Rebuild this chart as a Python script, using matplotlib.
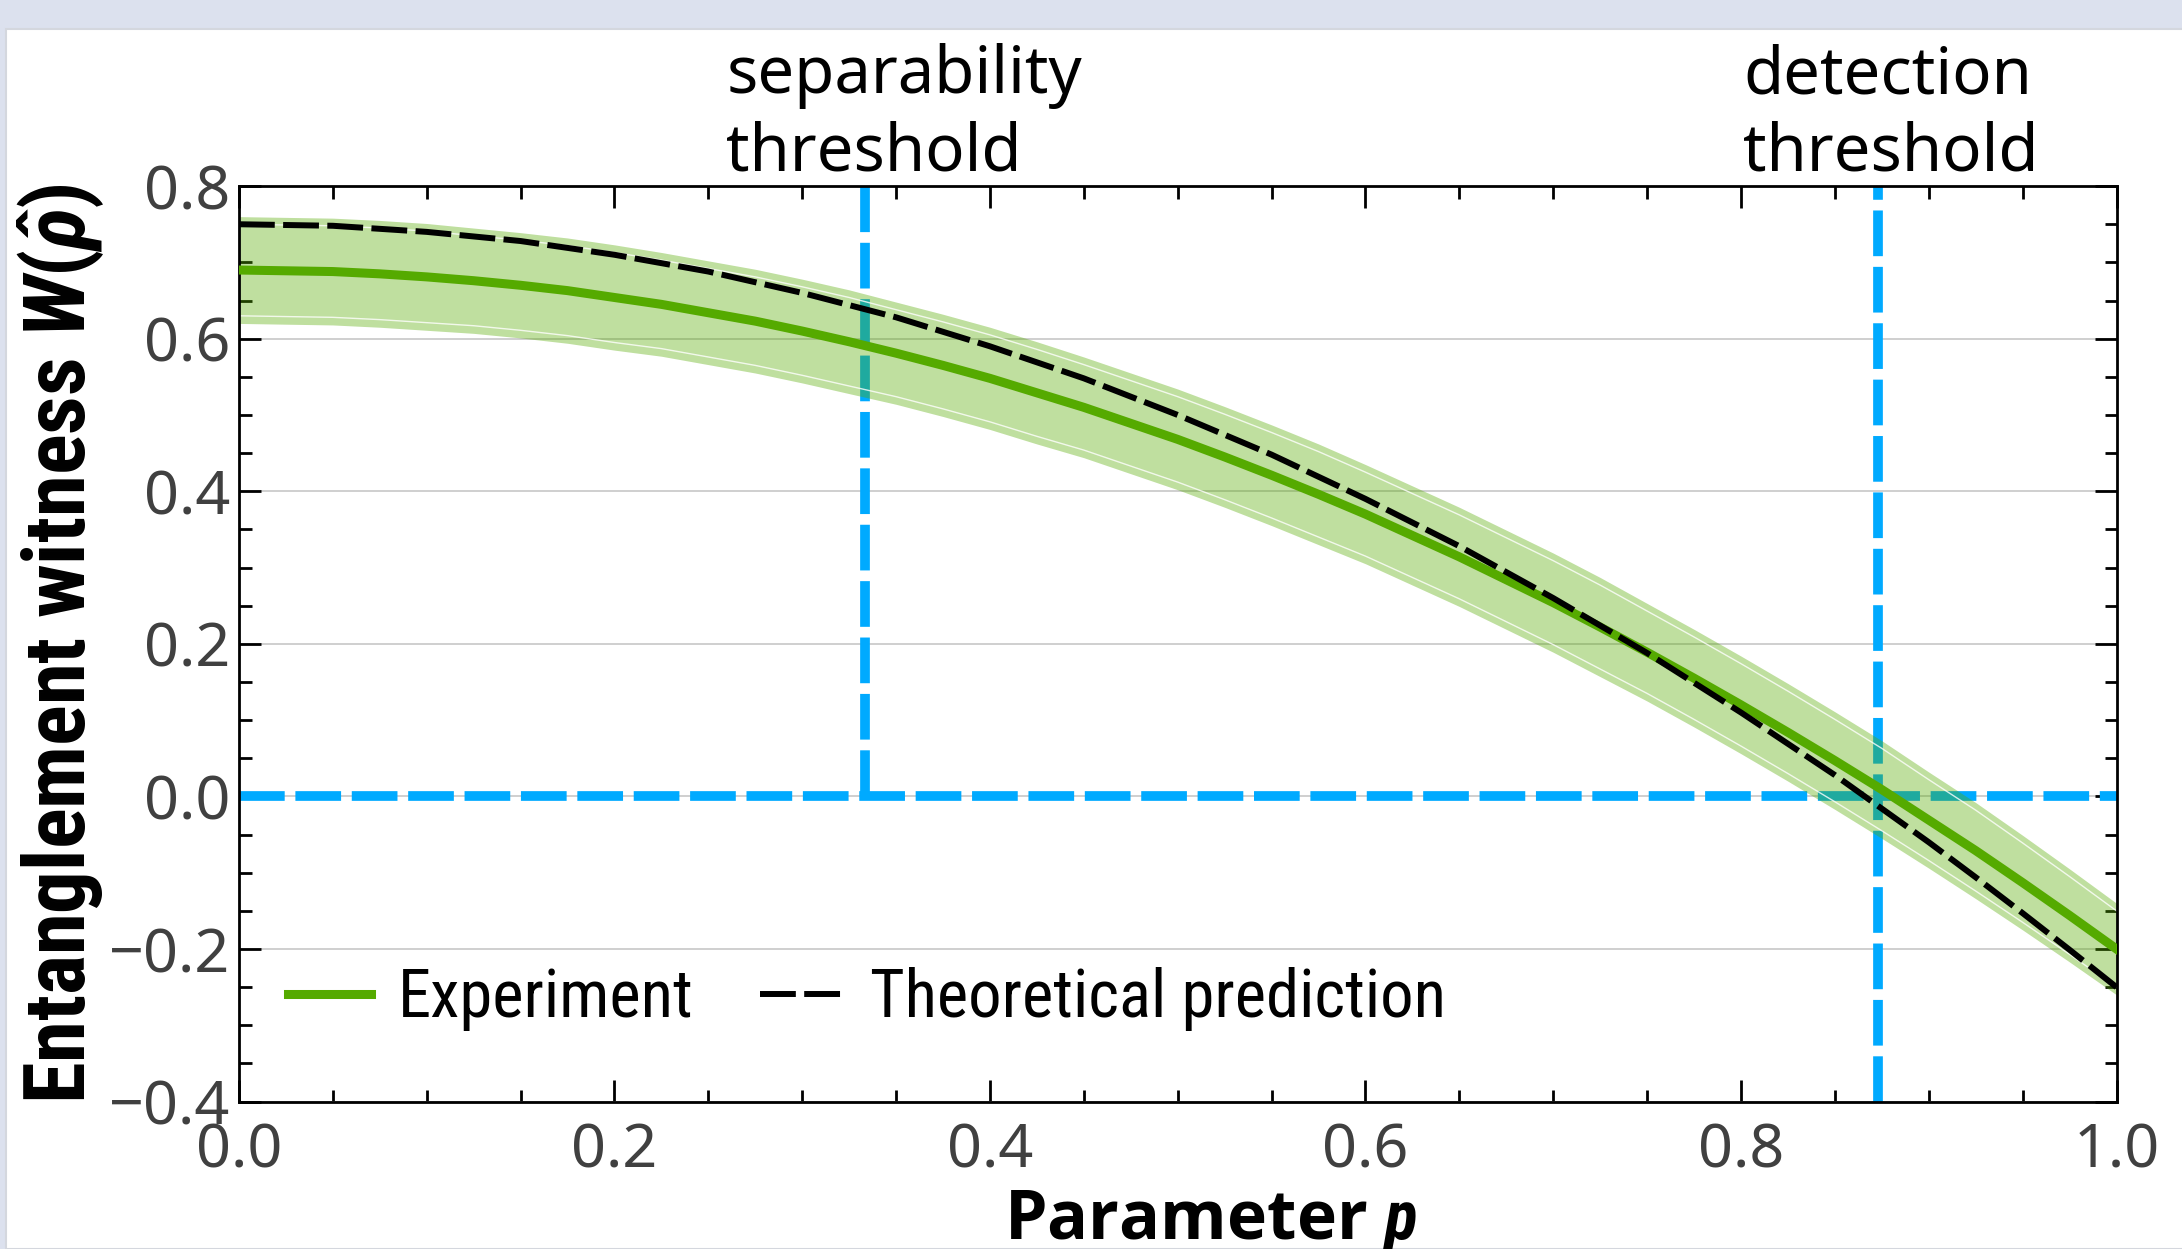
import matplotlib
matplotlib.use("Agg")
import matplotlib.pyplot as plt
from matplotlib import font_manager
from matplotlib.patches import Rectangle

# Valeurs
p = [0.000, 0.025, 0.050, 0.075, 0.100, 0.125, 0.150, 0.175, 0.200, 0.225,
     0.250, 0.275, 0.300, 0.325, 0.350, 0.375, 0.400, 0.425, 0.450, 0.475,
     0.500, 0.525, 0.550, 0.575, 0.600, 0.625, 0.650, 0.675, 0.700, 0.725,
     0.750, 0.775, 0.800, 0.825, 0.850, 0.875, 0.900, 0.925, 0.950, 0.975, 1.000]
w_theory = [0.750, 0.749, 0.748, 0.744, 0.740, 0.734, 0.728, 0.719, 0.710, 0.699,
            0.688, 0.674, 0.660, 0.644, 0.628, 0.609, 0.590, 0.569, 0.548, 0.524,
            0.500, 0.474, 0.448, 0.419, 0.390, 0.359, 0.328, 0.294, 0.260, 0.224,
            0.188, 0.149, 0.110, 0.069, 0.028, -0.016, -0.060, -0.106, -0.153, -0.201, -0.250]
w_exp = [0.690, 0.689, 0.688, 0.685, 0.681, 0.676, 0.670, 0.663, 0.654, 0.645,
         0.634, 0.623, 0.610, 0.596, 0.581, 0.565, 0.548, 0.529, 0.510, 0.489,
         0.468, 0.445, 0.421, 0.396, 0.370, 0.342, 0.314, 0.284, 0.254, 0.222,
         0.189, 0.155, 0.120, 0.084, 0.047, 0.009, -0.031, -0.071, -0.113, -0.156, -0.200]
w_err = [0.070, 0.070, 0.070, 0.070, 0.070, 0.069, 0.069, 0.069, 0.069, 0.068,
         0.068, 0.068, 0.068, 0.068, 0.067, 0.067, 0.067, 0.067, 0.066, 0.066,
         0.066, 0.066, 0.066, 0.066, 0.065, 0.065, 0.065, 0.065, 0.065, 0.065,
         0.064, 0.064, 0.064, 0.064, 0.064, 0.064, 0.063, 0.063, 0.062, 0.061, 0.060]
p_sep = 1 / 3
p_det = 0.873
xticks = [0.0, 0.2, 0.4, 0.6, 0.8, 1.0]
yticks = [-0.4, -0.2, 0.0, 0.2, 0.4, 0.6, 0.8]

fonts = font_manager.fontManager.ttflist


def pick(names, bold=False):
    for n in names:
        for f in fonts:
            if f.name == n and f.style == "normal":
                w = f.weight if isinstance(f.weight, int) else (700 if f.weight == "bold" else 400)
                if not bold or w >= 700:
                    return n
    return "DejaVu Sans"


FONT = pick(["Noto Sans", "Open Sans", "DejaVu Sans"])
BOLD = pick(["Noto Sans", "Open Sans", "Lato", "DejaVu Sans"], bold=True)
NARROW = pick(["Liberation Sans Narrow", "DejaVu Sans Condensed", "Roboto Condensed", "Liberation Sans"])

plt.rcParams["font.family"] = [FONT, "DejaVu Sans"]
plt.rcParams["mathtext.fontset"] = "custom"
plt.rcParams["mathtext.it"] = NARROW + ":bold:italic"
plt.rcParams["mathtext.rm"] = NARROW + ":bold"
plt.rcParams["mathtext.bf"] = NARROW + ":bold"

GREEN = "#55aa00"
BLUE = "#00aaff"

fig = plt.figure(figsize=(21.82, 12.49), dpi=100)
fig.patch.set_facecolor("#dce1ee")
fig.patches.append(Rectangle((6 / 2182, 0), 1, 1 - 29 / 1249, transform=fig.transFigure,
                             facecolor="white", edgecolor="#d4d7de", lw=1.5, zorder=-1))
ax = fig.add_axes([0.1095, 0.118, 0.8605, 0.733])

w_lo = [e - d for e, d in zip(w_exp, w_err)]
w_hi = [e + d for e, d in zip(w_exp, w_err)]

# lignes de seuil
ax.plot([0, 1], [0, 0], color=BLUE, lw=7, dashes=(4.7, 1.1), zorder=1)
ax.plot([p_sep, p_sep], [0, 0.8], color=BLUE, lw=7, dashes=(4.7, 1.1), zorder=1)
ax.plot([p_det, p_det], [-0.4, 0.8], color=BLUE, lw=7, dashes=(4.7, 1.1), zorder=1)

# bande d'erreur
ax.fill_between(p, w_lo, w_hi, color=GREEN, alpha=0.375, lw=0, zorder=2)
ax.plot(p, [v - 0.01 for v in w_hi], color="white", lw=1, alpha=0.8, zorder=2.5)
ax.plot(p, [v + 0.01 for v in w_lo], color="white", lw=1, alpha=0.8, zorder=2.5)

ax.plot(p, w_exp, color=GREEN, lw=6.5, label="Experiment", zorder=3)
ax.plot(p, w_theory, color="black", lw=4.3, dashes=(6, 1.4), label="Theoretical prediction", zorder=4)

ax.set_xlim(0, 1)
ax.set_ylim(-0.4, 0.8)
ax.set_xticks(xticks)
ax.set_yticks(yticks)
ax.set_xticks([x / 20 for x in range(21)], minor=True)
ax.set_yticks([-0.4 + y * 0.05 for y in range(25)], minor=True)
ax.set_xticklabels([f"{v:.1f}" for v in xticks])
ax.set_yticklabels([f"{v:.1f}".replace("-", "\u2212") for v in yticks])
ax.tick_params(which="both", direction="in", top=True, right=True, width=2, colors="black",
               labelcolor="#404040", labelsize=44)
ax.tick_params(which="major", length=16)
ax.tick_params(which="minor", length=9)
ax.tick_params(axis="x", pad=14)
ax.tick_params(axis="y", pad=6)
for s in ax.spines.values():
    s.set_linewidth(2)
ax.yaxis.grid(True, which="major", color="#cccccc", lw=1.3, zorder=0)
ax.set_axisbelow(True)

ax.set_xlabel("Parameter $p$", fontsize=49, fontweight="bold", family=[BOLD, "DejaVu Sans"])
ax.xaxis.set_label_coords(0.5176, -0.093)
ax.set_ylabel(r"Entanglement witness $W(\hat{\rho})$", fontsize=61, fontweight="bold",
              family=[NARROW, "DejaVu Sans"])
ax.yaxis.set_label_coords(-0.070, 0.5)

ax.text(0.2595, 1.0, "separability\nthreshold", transform=ax.get_xaxis_transform(),
        fontsize=47, ha="left", va="bottom", linespacing=1.22)
ax.text(0.801, 1.0, "detection\nthreshold", transform=ax.get_xaxis_transform(),
        fontsize=47, ha="left", va="bottom", linespacing=1.22)

ax.legend(loc="lower left", bbox_to_anchor=(0.026, 0.077), ncol=2, frameon=False,
          prop={"family": [NARROW, "DejaVu Sans"], "size": 48},
          handlelength=1.25, handletextpad=0.4, columnspacing=1.0,
          borderpad=0, borderaxespad=0)

fig.savefig("out.png", dpi=100)
